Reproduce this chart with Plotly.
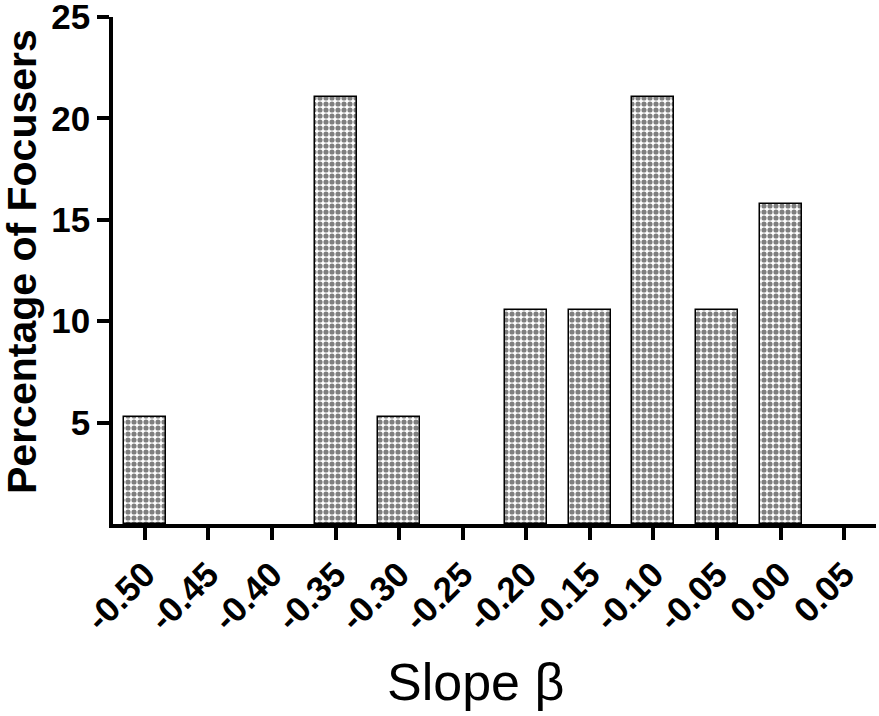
import plotly.graph_objects as go

categories = ["-0.50", "-0.45", "-0.40", "-0.35", "-0.30", "-0.25",
              "-0.20", "-0.15", "-0.10", "-0.05", "0.00", "0.05"]
percentages = [5.26, 0, 0, 21.05, 5.26, 0, 10.53, 10.53, 21.05, 10.53, 15.79, 0]
y_ticks = [5, 10, 15, 20, 25]

FONT = "Arial, Liberation Sans, sans-serif"
positions = list(range(len(categories)))
bar_heights = [v if v > 0 else None for v in percentages]

W, H = 879, 716
L, T, R, B = 113, 17, 3, 716 - 524
PW, PH = W - L - R, H - T - B

fig = go.Figure()
fig.add_trace(go.Bar(
    x=positions,
    y=bar_heights,
    width=0.66,
    marker=dict(
        color="white",
        line=dict(color="black", width=1.5),
        pattern=dict(shape=".", size=6, solidity=0.58, fgcolor="black", bgcolor="white"),
    ),
    showlegend=False,
))

fig.update_layout(
    width=W, height=H,
    margin=dict(l=L, r=R, t=T, b=B, autoexpand=False),
    plot_bgcolor="white", paper_bgcolor="white",
    font=dict(family=FONT, color="black"),
    bargap=0,
)
fig.update_xaxes(
    range=[-0.5, 11.5], automargin=False,
    tickmode="array", tickvals=positions, ticktext=[f"<b>{c}</b>" for c in categories],
    tickangle=-45, ticklabeloverflow="allow",
    tickfont=dict(size=35, family=FONT, color="black"),
    showline=True, linecolor="black", linewidth=3.5,
    ticks="outside", ticklen=12, tickwidth=3.5, tickcolor="black",
    showgrid=False, zeroline=False,
)
fig.update_yaxes(
    range=[0, 25], automargin=False,
    tickmode="array", tickvals=y_ticks, ticktext=[f"<b>{v}</b>" for v in y_ticks],
    ticklabeloverflow="allow",
    tickfont=dict(size=35, family=FONT, color="black"),
    showline=True, linecolor="black", linewidth=3.5,
    ticks="outside", ticklen=12, tickwidth=3.5, tickcolor="black",
    showgrid=False, zeroline=False,
)
fig.add_annotation(
    text="<b>Percentage of Focusers</b>", textangle=-90,
    xref="paper", yref="paper", x=(22 - 113) / PW, y=(524 - 262) / PH,
    xanchor="center", yanchor="middle", showarrow=False,
    font=dict(size=41, family=FONT, color="black"),
)
fig.add_annotation(
    text="Slope β",
    xref="paper", yref="paper", x=(475 - 113) / PW, y=-(682 - 524) / PH,
    xanchor="center", yanchor="middle", showarrow=False,
    font=dict(size=52, family=FONT, color="black"),
)

fig.write_html("out.html", config={"displayModeBar": False},
               post_script="document.body.style.margin='0';")
